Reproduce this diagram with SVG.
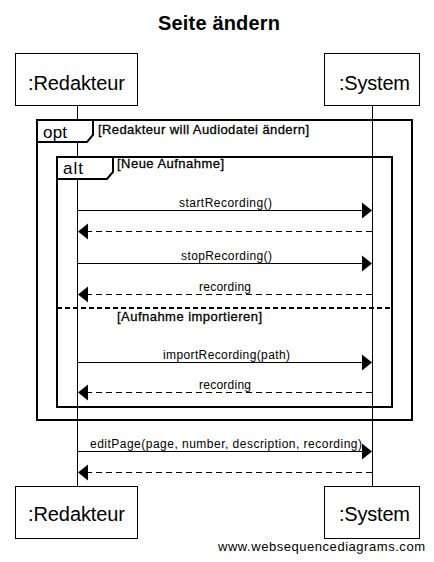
<svg xmlns="http://www.w3.org/2000/svg" width="434" height="562" viewBox="0 0 434 562">
<style>
.title{font-family:"Liberation Sans",Arial,sans-serif;font-size:20px;font-weight:bold;fill:#000}
.actor{font-family:"Liberation Sans",Arial,sans-serif;font-size:20px;fill:#000}
.box{fill:#fff;stroke:#000;stroke-width:1}
.life{stroke:#000;stroke-width:1;fill:none}
.msg{font-family:"Liberation Sans",Arial,sans-serif;font-size:12px;fill:#000}
.guard{font-family:"Liberation Sans",Arial,sans-serif;font-size:13px;fill:#000;stroke:#000;stroke-width:0.3}
.ftype{font-family:"Liberation Sans",Arial,sans-serif;font-size:17px;fill:#000}
.frame{fill:none;stroke:#000;stroke-width:2}
.tab{fill:#fff;stroke:#000;stroke-width:2}
.solid{stroke:#000;stroke-width:1;fill:none}
.dash{stroke:#000;stroke-width:1;fill:none;stroke-dasharray:6 4}
.sep{stroke:#000;stroke-width:2;fill:none;stroke-dasharray:5 3}
.head{fill:#000}
.wm{font-family:"Liberation Sans",Arial,sans-serif;font-size:13px;fill:#000}
</style>
<text class="title" x="219" y="30" text-anchor="middle" textLength="122">Seite ändern</text>

<g id="lifelines">
<line class="life" x1="77.5" y1="105" x2="77.5" y2="486"/>
<line class="life" x1="372.5" y1="105" x2="372.5" y2="486"/>
</g>

<g id="frame-opt">
<rect class="frame" x="37" y="120" width="375" height="300"/>
<polygon class="tab" points="37,120 93,120 93,135 87,142 37,142"/>
<text class="ftype" x="43" y="138" textLength="24">opt</text>
<text class="guard" x="98" y="134" textLength="211">[Redakteur will Audiodatei ändern]</text>
</g>

<g id="frame-alt">
<rect class="frame" x="57" y="157" width="335" height="250"/>
<polygon class="tab" points="57,157 113,157 113,172 107,179 57,179"/>
<text class="ftype" x="63" y="174" textLength="20">alt</text>
<text class="guard" x="117" y="168" textLength="107">[Neue Aufnahme]</text>
<line class="sep" x1="57" y1="308" x2="392" y2="308"/>
<text class="guard" x="117" y="321" textLength="145">[Aufnahme importieren]</text>
</g>

<g id="node-redakteur">
<rect class="box" x="15.5" y="53.5" width="122" height="52"/>
<text class="actor" x="28" y="90" textLength="97">:Redakteur</text>
<rect class="box" x="15.5" y="486.5" width="122" height="52"/>
<text class="actor" x="28" y="521" textLength="97">:Redakteur</text>
</g>

<g id="node-system">
<rect class="box" x="324.5" y="53.5" width="95" height="52"/>
<text class="actor" x="339" y="90" textLength="71">:System</text>
<rect class="box" x="324.5" y="486.5" width="95" height="52"/>
<text class="actor" x="339" y="521" textLength="71">:System</text>
</g>

<g id="connectors">
<line class="solid" x1="77.5" y1="210.5" x2="363" y2="210.5"/>
<polygon class="head" points="372,210.5 362,202.5 362,218.5"/>
<text class="msg" x="179" y="207" textLength="93">startRecording()</text>

<line class="dash" x1="372" y1="231.5" x2="87" y2="231.5"/>
<polygon class="head" points="78,231.5 88,223.5 88,239.5"/>

<line class="solid" x1="77.5" y1="263.5" x2="363" y2="263.5"/>
<polygon class="head" points="372,263.5 362,255.5 362,271.5"/>
<text class="msg" x="181" y="260" textLength="91">stopRecording()</text>

<line class="dash" x1="372" y1="294.5" x2="87" y2="294.5"/>
<polygon class="head" points="78,294.5 88,286.5 88,302.5"/>
<text class="msg" x="199" y="291" textLength="52">recording</text>

<line class="solid" x1="77.5" y1="362.5" x2="363" y2="362.5"/>
<polygon class="head" points="372,362.5 362,354.5 362,370.5"/>
<text class="msg" x="163" y="359" textLength="127">importRecording(path)</text>

<line class="dash" x1="372" y1="392.5" x2="87" y2="392.5"/>
<polygon class="head" points="78,392.5 88,384.5 88,400.5"/>
<text class="msg" x="199" y="389" textLength="52">recording</text>

<line class="solid" x1="77.5" y1="451.5" x2="363" y2="451.5"/>
<polygon class="head" points="372,451.5 362,443.5 362,459.5"/>
<text class="msg" x="90" y="448" textLength="272">editPage(page, number, description, recording)</text>

<line class="dash" x1="372" y1="472.5" x2="87" y2="472.5"/>
<polygon class="head" points="78,472.5 88,464.5 88,480.5"/>
</g>

<text class="wm" x="218" y="551" textLength="207">www.websequencediagrams.com</text>
</svg>
